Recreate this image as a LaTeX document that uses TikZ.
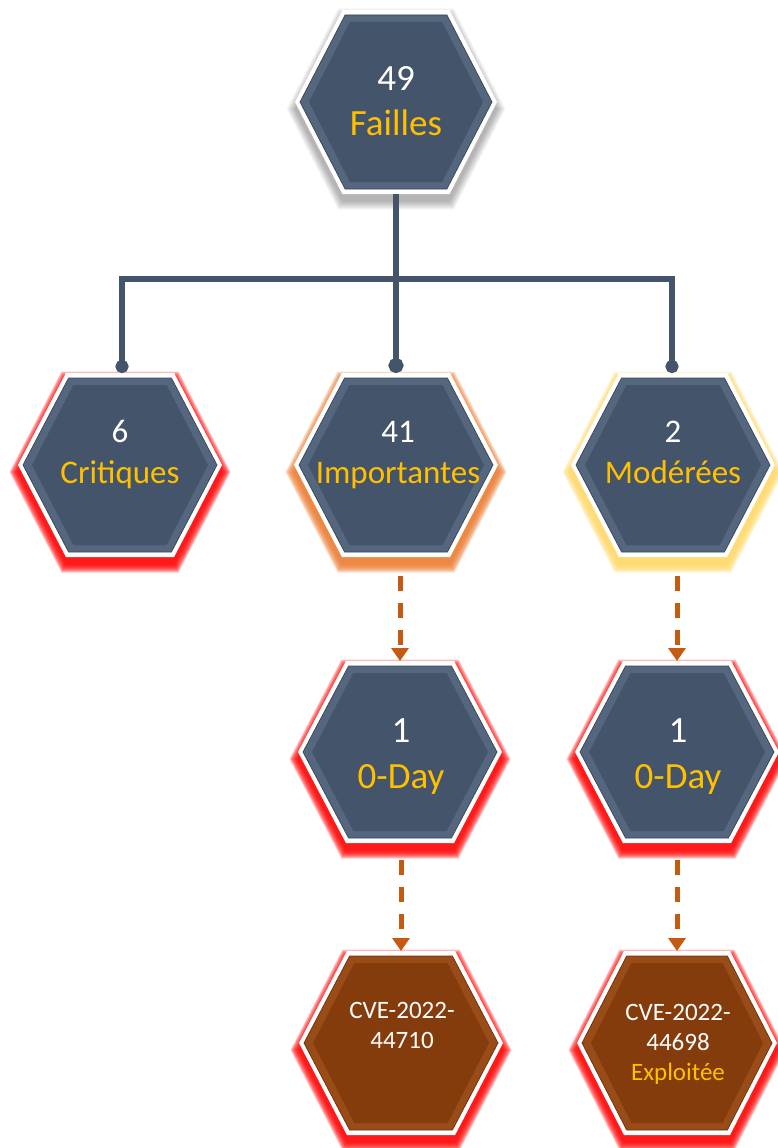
\documentclass[tikz,border=0pt]{standalone}
\usepackage{fontspec}
\setmainfont{Carlito}
\usetikzlibrary{arrows.meta}
\definecolor{slate}{HTML}{44546A}
\definecolor{slatebev}{HTML}{55677F}
\definecolor{brownf}{HTML}{843C0C}
\definecolor{brownbev}{HTML}{9A4C18}
\definecolor{gold}{HTML}{FFC000}
\definecolor{glowred}{HTML}{FF0000}
\definecolor{gloworange}{HTML}{ED7D31}
\definecolor{glowyellow}{HTML}{FFD966}
\definecolor{arrowor}{HTML}{C55A11}

\newcommand{\hexpath}[4]{({#1-(#3)},{#2}) -- ({#1-0.53*(#3)},{#2-(#4)}) -- ({#1+0.53*(#3)},{#2-(#4)}) -- ({#1+(#3)},{#2}) -- ({#1+0.53*(#3)},{#2+(#4)}) -- ({#1-0.53*(#3)},{#2+(#4)}) -- cycle}

% name, cx, cy, W, H, glow style, fill, bevel
\newcommand{\hexa}[8]{%
  \foreach \k in {0,...,8}{\fill[#6] \hexpath{#2}{#3+7}{#4+0.5+1*\k}{#5+0.5+1*\k};}
  \fill[white] \hexpath{#2}{#3}{#4}{#5};
  \fill[#8] \hexpath{#2}{#3}{#4-5}{#5-5};
  \fill[#7] \hexpath{#2}{#3}{#4-14}{#5-12};
  \draw[#7!80!black,line width=0.7pt] \hexpath{#2}{#3}{#4-5}{#5-5};
  \node[hexbox,minimum width={2*(#4)},minimum height={2*(#5)}] (#1) at (#2,#3) {};
}

\tikzset{
  hexbox/.style={draw=none,inner sep=0pt,outer sep=0pt,rectangle},
  glowR/.style={fill=glowred,opacity=0.22},
  glowO/.style={fill=gloworange,opacity=0.22},
  glowY/.style={fill=glowyellow,opacity=0.22},
  shadowG/.style={fill=black,opacity=0.035},
  numtxt/.style={anchor=base,inner sep=0pt,text=white},
  labtxt/.style={anchor=base,inner sep=0pt,text=gold},
  big/.style={font=\fontsize{37}{37}\selectfont},
  mid/.style={font=\fontsize{33}{33}\selectfont},
  zday/.style={font=\fontsize{37}{37}\selectfont},
  small/.style={font=\fontsize{25}{25}\selectfont},
  conn/.style={draw=slate,line width=5.5pt},
  dotbig/.style={-{Circle[length=15pt,width=15pt]}},
  dotsmall/.style={-{Circle[length=13pt,width=13pt]}},
  dasharrow/.style={draw=arrowor,line width=5pt,dash pattern=on 15pt off 12pt,-{Triangle[length=13pt,width=17pt]}}
}

\begin{document}
\begin{tikzpicture}[x=1pt,y=-1pt]
\clip (0,0) rectangle (778,1148);
\fill[white] (0,0) rectangle (778,1148);

% hexagons
\hexa{top}{396}{102}{101}{92}{shadowG}{slate}{slatebev}
\hexa{crit}{120}{465}{102}{92}{glowR}{slate}{slatebev}
\hexa{imp}{396}{465}{102}{92}{glowO}{slate}{slatebev}
\hexa{mod}{673}{465}{102}{92}{glowY}{slate}{slatebev}
\hexa{zdl}{400}{752}{102}{91}{glowR}{slate}{slatebev}
\hexa{zdr}{677}{752}{102}{91}{glowR}{slate}{slatebev}
\hexa{cvl}{401}{1043}{102}{92}{glowR}{brownf}{brownbev}
\hexa{cvr}{677}{1043}{100}{92}{glowR}{brownf}{brownbev}

% texts
\node[numtxt,big] (topN) at (396,90) {49};
\node[labtxt,big] (topL) at (396,135) {Failles};
\node[numtxt,mid] (critN) at (120,442) {6};
\node[labtxt,mid] (critL) at (120,483) {Critiques};
\node[numtxt,mid] (impN) at (398,442) {41};
\node[labtxt,mid] (impL) at (398,483) {Importantes};
\node[numtxt,mid] (modN) at (673,442) {2};
\node[labtxt,mid] (modL) at (673,483) {Modérées};
\node[numtxt,zday] (zdlN) at (401,742) {1};
\node[labtxt,zday] (zdlL) at (401,788) {0-Day};
\node[numtxt,zday] (zdrN) at (678,742) {1};
\node[labtxt,zday] (zdrL) at (678,788) {0-Day};
\node[numtxt,small] (cvlA) at (402,1018) {CVE-2022-};
\node[numtxt,small] (cvlB) at (402,1048) {44710};
\node[numtxt,small] (cvrA) at (678,1020) {CVE-2022-};
\node[numtxt,small] (cvrB) at (678,1050) {44698};
\node[labtxt,small] (cvrC) at (678,1080) {Exploitée};

% tree connectors
\coordinate (bus) at (396,279);
\draw[conn,dotbig] (top.south) -- (imp.north);
\draw[conn,dotsmall] (bus) -| ([xshift=2pt]crit.north);
\draw[conn,dotsmall] (bus) -| ([xshift=-1pt]mod.north);

% dashed arrows
\draw[dasharrow,shorten <=19pt] (zdl.north |- imp.south) -- (zdl.north);
\draw[dasharrow,shorten <=19pt] (zdr.north |- mod.south) -- (zdr.north);
\draw[dasharrow,shorten <=17pt] (cvl.north |- zdl.south) -- (cvl.north);
\draw[dasharrow,shorten <=17pt] (cvr.north |- zdr.south) -- (cvr.north);
\end{tikzpicture}
\end{document}
